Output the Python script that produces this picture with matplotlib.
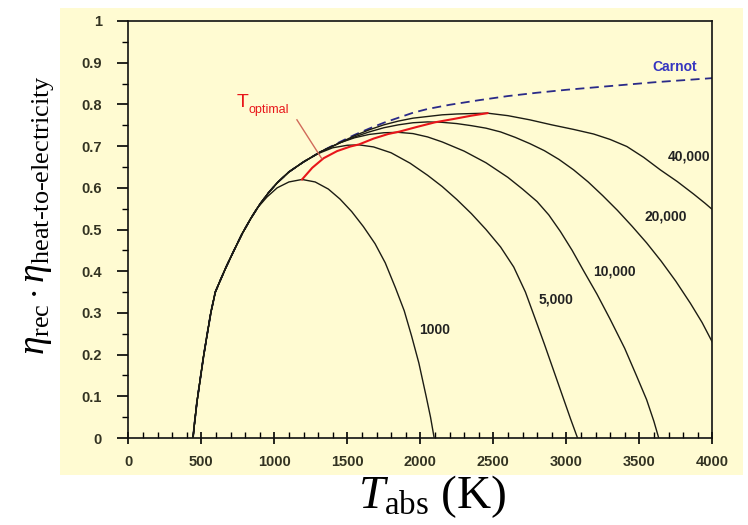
import matplotlib
matplotlib.use("Agg")
import matplotlib.pyplot as plt
from matplotlib.patches import Rectangle
from matplotlib.ticker import MultipleLocator
import numpy as np

plt.rcParams['mathtext.fontset'] = 'custom'
plt.rcParams['mathtext.rm'] = 'Liberation Serif'
plt.rcParams['mathtext.it'] = 'Liberation Serif:italic'
plt.rcParams['mathtext.sf'] = 'Liberation Sans'

# ---- data ----
# common rising branch shared by all concentration curves
env_T   = [443, 455, 470, 493, 515, 539, 565, 596, 630, 670, 720, 780, 840, 900, 960, 1020, 1100, 1200, 1320, 1450]
env_eta = [0.0, 0.040, 0.086, 0.142, 0.195, 0.246, 0.300, 0.350, 0.378, 0.410, 0.447, 0.490, 0.527, 0.560, 0.588, 0.612, 0.638, 0.662, 0.687, 0.708]

c1000_T   = [880, 950, 1020, 1100, 1190, 1280, 1370, 1450, 1530, 1610, 1690, 1760, 1830, 1890, 1940, 1990, 2040, 2070, 2095]
c1000_eta = [0.550, 0.578, 0.600, 0.614, 0.620, 0.614, 0.597, 0.573, 0.543, 0.507, 0.466, 0.420, 0.360, 0.305, 0.245, 0.180, 0.100, 0.050, 0.0]

c5000_T   = [1200, 1300, 1400, 1500, 1580, 1680, 1800, 1930, 2050, 2150, 2250, 2350, 2450, 2550, 2640, 2720, 2790, 2850, 2910, 2970, 3030, 3077]
c5000_eta = [0.662, 0.682, 0.696, 0.702, 0.703, 0.698, 0.684, 0.659, 0.630, 0.603, 0.572, 0.538, 0.500, 0.458, 0.410, 0.350, 0.283, 0.225, 0.165, 0.105, 0.045, 0.0]

c10000_T   = [1450, 1550, 1650, 1750, 1850, 1950, 2050, 2150, 2300, 2450, 2600, 2700, 2800, 2880, 2960, 3040, 3120, 3210, 3300, 3400, 3480, 3550, 3600, 3633]
c10000_eta = [0.708, 0.720, 0.728, 0.732, 0.733, 0.730, 0.722, 0.710, 0.688, 0.660, 0.625, 0.597, 0.567, 0.535, 0.495, 0.450, 0.400, 0.345, 0.285, 0.215, 0.150, 0.092, 0.040, 0.0]

c20000_T   = [1550, 1650, 1750, 1850, 1950, 2050, 2150, 2250, 2350, 2450, 2550, 2650, 2750, 2850, 2950, 3050, 3150, 3250, 3350, 3450, 3550, 3650, 3750, 3850, 3930, 4000]
c20000_eta = [0.722, 0.734, 0.744, 0.751, 0.756, 0.758, 0.757, 0.754, 0.749, 0.743, 0.734, 0.721, 0.706, 0.689, 0.668, 0.643, 0.614, 0.581, 0.546, 0.508, 0.468, 0.424, 0.376, 0.323, 0.277, 0.230]

c40000_T   = [1550, 1650, 1750, 1850, 1950, 2050, 2150, 2250, 2350, 2460, 2600, 2750, 2900, 3050, 3187, 3300, 3415, 3530, 3644, 3760, 3872, 3950, 4000]
c40000_eta = [0.725, 0.739, 0.751, 0.760, 0.767, 0.771, 0.775, 0.777, 0.778, 0.779, 0.773, 0.763, 0.751, 0.740, 0.729, 0.716, 0.699, 0.673, 0.643, 0.615, 0.585, 0.563, 0.548]

carnot_T   = [1450, 1550, 1650, 1750, 1850, 1950, 2050, 2200, 2400, 2600, 2800, 3000, 3200, 3400, 3600, 3800, 4000]
carnot_eta = [0.710, 0.727, 0.742, 0.756, 0.768, 0.780, 0.789, 0.799, 0.810, 0.820, 0.828, 0.835, 0.841, 0.847, 0.853, 0.858, 0.863]

topt_T   = [1190, 1260, 1338, 1430, 1521, 1580, 1680, 1780, 1860, 1977, 2100, 2228, 2350, 2460]
topt_eta = [0.620, 0.648, 0.671, 0.688, 0.699, 0.704, 0.718, 0.729, 0.735, 0.746, 0.757, 0.765, 0.773, 0.779]

concentrations = ['1000', '5,000', '10,000', '20,000', '40,000']

def with_env(T, eta):
    t0 = T[0]
    eT = [t for t in env_T if t < t0]
    ee = [e for t, e in zip(env_T, env_eta) if t < t0]
    return eT + list(T), ee + list(eta)

curves = [(c1000_T, c1000_eta), (c5000_T, c5000_eta), (c10000_T, c10000_eta),
          (c20000_T, c20000_eta), (c40000_T, c40000_eta)]

yellow = '#FFFBD2'
ink = '#1c1c14'

fig = plt.figure(figsize=(7.48, 5.25), dpi=100)
fig.patches.append(Rectangle((60/748, 1-475/525), (743-60)/748, (475-8)/525,
                             transform=fig.transFigure, facecolor=yellow,
                             edgecolor='none', zorder=-5))
ax = fig.add_axes([128.3/748, 1-438/525, 584/748, 417/525])
ax.set_zorder(2)
ax.set_facecolor(yellow)

cT, ce = with_env(carnot_T, carnot_eta)
ax.plot(cT, ce, color='#2a2a88', lw=1.3, dashes=(5, 3), zorder=2)

for T, eta in curves:
    xT, xe = with_env(T, eta)
    ax.plot(xT, xe, color=ink, lw=1.0, zorder=3, solid_joinstyle='round')

ax.plot(topt_T, topt_eta, color='#e8161a', lw=1.5, zorder=4, solid_joinstyle='round')
ax.plot([1155, 1325], [0.763, 0.670], color='#d06a5a', lw=1.0, zorder=4)
ax.text(745, 0.794, 'T', color='#e8161a', fontsize=14, family='Liberation Sans',
        ha='left', va='baseline')
ax.text(822, 0.779, 'optimal', color='#e8161a', fontsize=9, family='Liberation Sans',
        ha='left', va='baseline')

lab_kw = dict(fontsize=10, fontweight='bold', family='Liberation Sans', color='#222222')
ax.text(2095, 0.259, concentrations[0], ha='center', va='center', **lab_kw)
ax.text(2930, 0.331, concentrations[1], ha='center', va='center', **lab_kw)
ax.text(3330, 0.399, concentrations[2], ha='center', va='center', **lab_kw)
ax.text(3680, 0.531, concentrations[3], ha='center', va='center', **lab_kw)
ax.text(3990, 0.674, concentrations[4], ha='right', va='center', **lab_kw)
ax.text(3740, 0.89, 'Carnot', ha='center', va='center', fontsize=10, fontweight='bold',
        family='Liberation Sans', color='#3535c0')

ax.set_xlim(0, 4000)
ax.set_ylim(0, 1)
ax.xaxis.set_major_locator(MultipleLocator(500))
ax.xaxis.set_minor_locator(MultipleLocator(100))
ax.yaxis.set_major_locator(MultipleLocator(0.1))
ax.yaxis.set_minor_locator(MultipleLocator(0.05))
ax.set_yticks(np.arange(0, 1.01, 0.1))
ax.set_yticklabels(['0', '0.1', '0.2', '0.3', '0.4', '0.5', '0.6', '0.7', '0.8', '0.9', '1'])
ax.tick_params(axis='x', which='major', direction='inout', length=8, width=1.2, pad=8)
ax.tick_params(axis='x', which='minor', direction='in', length=4, width=1.0)
ax.tick_params(axis='y', which='major', direction='out', length=8, width=1.2, pad=11)
ax.tick_params(axis='y', which='minor', direction='out', length=4, width=1.0)
for lbl in ax.get_xticklabels() + ax.get_yticklabels():
    lbl.set_fontweight('bold')
    lbl.set_family('Liberation Sans')
    lbl.set_fontsize(10.5)
    lbl.set_color('#333322')
for s in ax.spines.values():
    s.set_linewidth(1.2)
    s.set_color('#111111')

hy = '\u2010'
ylab = '$\\eta_{\\mathrm{rec}}\\cdot\\eta_{\\mathrm{heat' + hy + 'to' + hy + 'electricity}}$'
fig.text(38/748, 1-215/525, ylab,
         rotation=90, ha='center', va='center', fontsize=27, color='black')
fig.text(432/748, 1-497/525, r'$T_{\mathrm{abs}}\ \mathrm{(K)}$',
         ha='center', va='center', fontsize=34, color='black')

fig.savefig('out.png', dpi=100, facecolor='white')
